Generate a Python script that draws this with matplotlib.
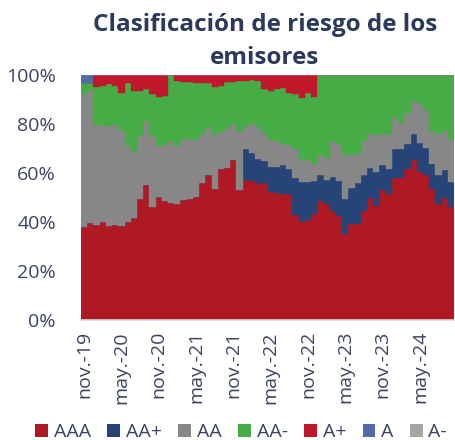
import numpy as np
import pandas as pd
import matplotlib
matplotlib.use("Agg")
import matplotlib.pyplot as plt
from matplotlib.patches import Patch

plt.rcParams['font.family'] = ['Open Sans', 'DejaVu Sans']

# monthly categories nov-19 .. oct-24
months = pd.date_range('2019-11-01', periods=60, freq='MS')
tick_labels = ['nov.-19', 'may.-20', 'nov.-20', 'may.-21', 'nov.-21',
               'may.-22', 'nov.-22', 'may.-23', 'nov.-23', 'may.-24']

# shares in %
aaa = [37.9, 39.6, 38.6, 40.2, 38.3, 38.7, 38.3, 40.0, 41.6, 49.5,
       55.1, 46.0, 50.2, 48.4, 47.7, 47.3, 49.1, 49.5, 50.2, 55.9,
       59.1, 53.6, 61.8, 62.1, 65.2, 53.2, 57.3, 56.8, 55.7, 55.9,
       52.3, 52.0, 51.6, 51.6, 42.7, 40.0, 40.9, 43.4, 48.6, 47.5,
       44.7, 42.3, 35.2, 39.3, 39.3, 44.7, 49.9, 46.5, 52.9, 51.6,
       58.1, 58.1, 61.8, 65.5, 60.4, 59.1, 53.6, 47.5, 49.9, 46.1]
aa_plus = [0, 0, 0, 0, 0, 0, 0, 0, 0, 0,
           0, 0, 0, 0, 0, 0, 0, 0, 0, 0,
           0, 0, 0, 0, 0, 0, 12.7, 11.4, 10.2, 9.0,
           10.2, 10.5, 11.6, 10.2, 15.3, 16.3, 15.4, 13.2, 10.5, 9.5,
           13.7, 14.5, 14.2, 14.6, 16.6, 14.4, 12.2, 13.9, 10.3, 9.9,
           11.6, 11.6, 10.0, 10.4, 11.9, 11.3, 10.0, 11.6, 11.2, 10.2]
aa = [54.2, 54.3, 41.2, 39.3, 41.0, 41.5, 39.2, 30.9, 27.0, 25.8,
      26.2, 29.3, 21.0, 23.2, 25.3, 23.9, 24.6, 24.2, 23.2, 20.2,
      19.8, 22.5, 15.0, 15.7, 14.7, 23.9, 9.3, 12.0, 12.7, 11.6,
      10.9, 10.6, 8.8, 9.8, 11.6, 8.9, 9.2, 7.2, 8.2, 9.0,
      14.6, 15.2, 17.9, 13.4, 12.4, 13.9, 14.0, 15.0, 12.9, 14.6,
      13.0, 10.9, 12.5, 13.5, 15.8, 15.5, 13.5, 17.0, 16.1, 17.1]
aa_minus = [4.8, 3.0, 15.4, 16.0, 17.0, 15.3, 15.0, 25.7, 24.9, 18.2,
            12.8, 16.8, 19.9, 19.8, 27.0, 26.3, 23.4, 23.4, 23.2, 20.5,
            17.7, 19.1, 18.7, 19.5, 17.4, 20.4, 18.4, 17.8, 19.1, 17.6,
            20.1, 21.0, 22.5, 20.9, 22.5, 25.5, 27.0, 27.3, 32.7, 34.0,
            27.0, 28.0, 32.7, 32.7, 31.7, 27.0, 23.9, 24.6, 23.9, 23.9,
            17.3, 19.4, 15.7, 10.6, 11.9, 14.1, 22.9, 23.9, 22.8, 26.6]
a_plus = [0, 0, 4.8, 4.5, 3.7, 4.5, 7.5, 3.4, 6.5, 6.5,
          5.9, 7.9, 8.9, 8.6, 0, 2.5, 2.9, 2.9, 3.4, 3.4,
          3.4, 4.8, 4.5, 2.7, 2.7, 2.5, 2.3, 2.0, 2.3, 5.9,
          6.5, 5.9, 5.5, 7.5, 7.9, 9.3, 7.5, 8.9, 0, 0,
          0, 0, 0, 0, 0, 0, 0, 0, 0, 0,
          0, 0, 0, 0, 0, 0, 0, 0, 0, 0]
a = [3.1, 3.1] + [0] * 58
a_minus = [0] * 60

names = ['AAA', 'AA+', 'AA', 'AA-', 'A+', 'A', 'A-']
series = [aaa, aa_plus, aa, aa_minus, a_plus, a, a_minus]
colors = ['#ae1923', '#264478', '#878787', '#46ac46', '#c0172a', '#5469aa', '#a5a5a5']

txt = '#3a4462'

fig = plt.figure(figsize=(4.55, 4.4), dpi=100)
ax = fig.add_axes([0.178, 0.2727, 0.82, 0.5568])

x = np.arange(len(months))
bottom = np.zeros(len(months))
for vals, c in zip(series, colors):
    v = np.array(vals, dtype=float)
    ax.bar(x, v, bottom=bottom, width=1.0, color=c, edgecolor=c, linewidth=0.3)
    bottom += v

ax.set_xlim(-0.5, len(months) - 0.5)
ax.set_ylim(0, 100)
ax.set_yticks(np.arange(0, 101, 20))
ax.set_yticklabels([f'{v}%' for v in range(0, 101, 20)])
tick_pos = [i for i, m in enumerate(months) if m.month in (11, 5)]
ax.set_xticks(tick_pos)
ax.set_xticklabels(tick_labels, rotation=90)
ax.tick_params(axis='both', length=0, labelsize=14, colors=txt)
ax.tick_params(axis='x', pad=8)
ax.tick_params(axis='y', pad=18)
for s in ['top', 'right', 'left']:
    ax.spines[s].set_visible(False)
ax.spines['bottom'].set_color('#d9d9d9')
ax.spines['bottom'].set_linewidth(1.2)

fig.text(0.582, 0.97, 'Clasificación de riesgo de los\nemisores', ha='center', va='top',
         fontsize=17.5, fontweight='bold', color='#2b3a5c', linespacing=1.5)

handles = [Patch(facecolor=c, edgecolor='none') for c in colors]
fig.legend(handles, names, loc='lower center', bbox_to_anchor=(0.53, -0.042), ncol=7,
           frameon=False, fontsize=14, handlelength=0.65, handleheight=0.65,
           handletextpad=0.3, columnspacing=0.85, labelcolor=txt)

fig.savefig('out.png', dpi=100)
